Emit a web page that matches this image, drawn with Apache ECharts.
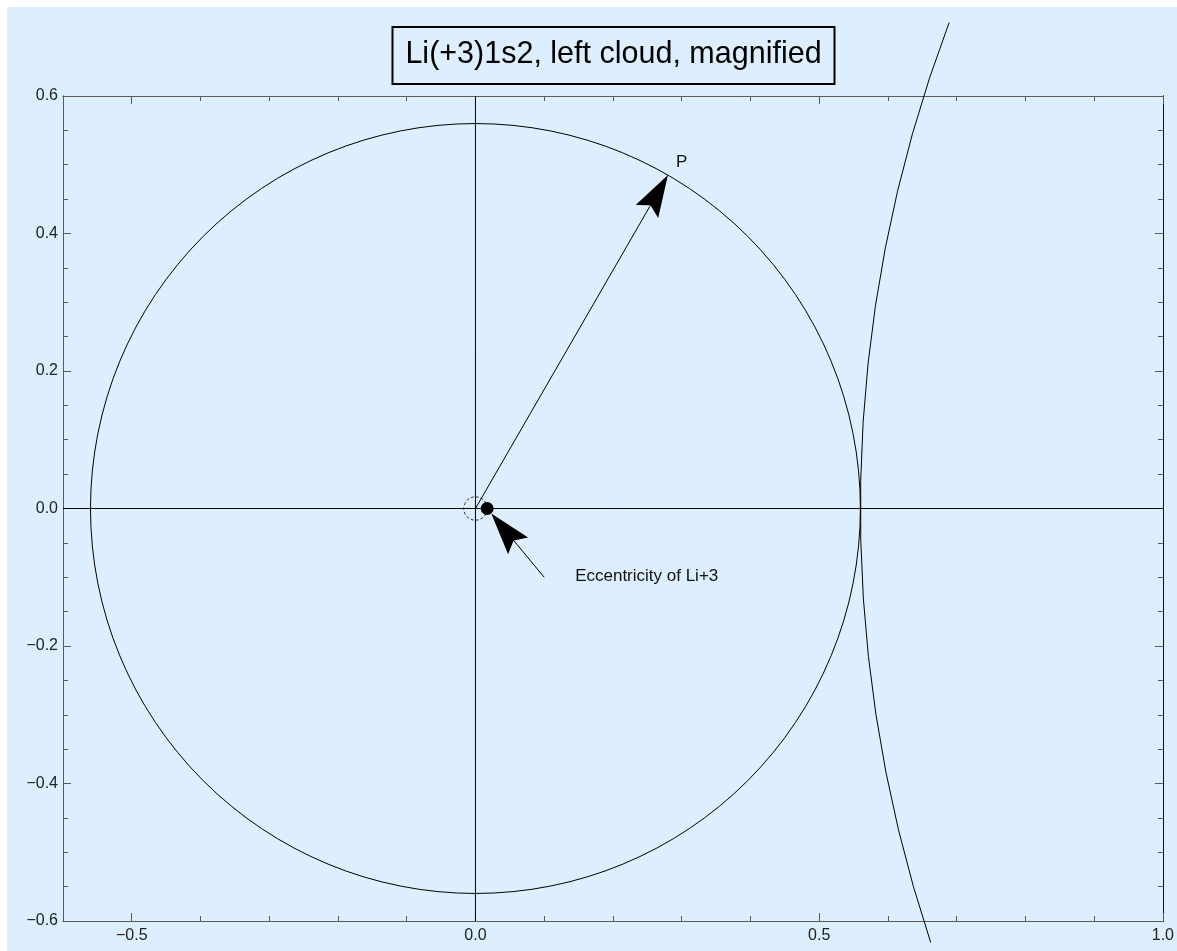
<!DOCTYPE html>
<html>
<head>
<meta charset="utf-8">
<script src="https://cdn.jsdelivr.net/npm/echarts@6/dist/echarts.min.js"></script>
<style>
  html, body { margin: 0; padding: 0; background: #ffffff; }
  #bg { position: absolute; left: 7px; top: 7px; width: 1170px; height: 944px; background: #ddeeff; }
  #chart { position: absolute; left: 7px; top: 7px; width: 1170px; height: 944px; }
</style>
</head>
<body>
<div id="bg"></div>
<div id="chart"></div>
<script>
// ---- data ----
const titleText = 'Li(+3)1s2, left cloud, magnified';
const xRange = [-0.6, 1.0];
const yRange = [-0.6, 0.6];
const xMajorTicks = [-0.5, 0.0, 0.5, 1.0];
const xMinorTicks = [-0.4, -0.3, -0.2, -0.1, 0.1, 0.2, 0.3, 0.4, 0.6, 0.7, 0.8, 0.9];
const yMajorTicks = [-0.6, -0.4, -0.2, 0.0, 0.2, 0.4, 0.6];
const yMinorTicks = [-0.55, -0.5, -0.45, -0.35, -0.3, -0.25, -0.15, -0.1, -0.05,
                     0.05, 0.1, 0.15, 0.25, 0.3, 0.35, 0.45, 0.5, 0.55];
// circles: [centerX, centerY, radius]
const solidCircles = [[0, 0, 0.56]];
const dashedCircles = [[0, 0, 0.017]];
// arcs: [centerX, centerY, radius, startAngleDeg, endAngleDeg]
const arcs = [[2.56, 0, 2.0, 159.3, 198.4]];
// arrows: [fromX, fromY, toX, toY]
const arrows = [[0, 0, 0.28, 0.485], [0.1, -0.1, 0.023, -0.0073]];
// eccentric nucleus position
const nucleus = [[0.017, 0]];
// annotations
const noteTexts = ['P', 'Eccentricity of Li+3'];
const notePos = [[0.30, 0.503], [0.145, -0.098]];
const noteAlign = ['center', 'left'];
// axes through origin
const hAxisLine = [[-0.6, 0], [1.0, 0]];
const vAxisLine = [[0, -0.6], [0, 0.6]];

// ---- chart ----
const FONT = '"Liberation Sans", Arial, Helvetica, sans-serif';
const frameColor = '#5a5a5a';
const fmt = v => (v < 0 ? '\u2212' : '') + Math.abs(v).toFixed(1);

const gridBox = { left: 56, top: 89, width: 1101, height: 825 };

function frameAxis(pos, ticks, len, labels, isX) {
  return {
    type: 'value',
    position: pos,
    min: isX ? xRange[0] : yRange[0],
    max: isX ? xRange[1] : yRange[1],
    axisLine: { show: true, onZero: false, lineStyle: { color: pos === 'right' ? '#111' : frameColor, width: 1 } },
    axisTick: { show: true, inside: true, length: len, customValues: ticks, lineStyle: { color: frameColor, width: 1 } },
    axisLabel: labels ? {
      show: true, customValues: ticks, formatter: fmt,
      fontSize: 16, fontFamily: FONT, color: '#222', margin: isX ? 7 : 5
    } : { show: false },
    splitLine: { show: false },
    minorTick: { show: false },
    silent: true
  };
}

const chart = echarts.init(document.getElementById('chart'), null, { renderer: 'canvas' });

const option = {
  animation: false,
  backgroundColor: 'transparent',
  title: {
    text: titleText,
    left: gridBox.left + gridBox.width / 2 - 13,
    top: 20,
    textAlign: 'center',
    padding: [10, 13, 11, 13],
    borderColor: '#000',
    borderWidth: 2,
    textStyle: { fontSize: 30.5, fontWeight: 'normal', color: '#000', fontFamily: FONT, lineHeight: 36 }
  },
  grid: Object.assign({ containLabel: false }, gridBox),
  xAxis: [
    frameAxis('bottom', xMajorTicks, 8, true, true),
    frameAxis('bottom', xMinorTicks, 5, false, true),
    frameAxis('top', xMajorTicks, 8, false, true),
    frameAxis('top', xMinorTicks, 5, false, true)
  ],
  yAxis: [
    frameAxis('left', yMajorTicks, 8, true, false),
    frameAxis('left', yMinorTicks, 5, false, false),
    frameAxis('right', yMajorTicks, 8, false, false),
    frameAxis('right', yMinorTicks, 5, false, false)
  ],
  series: [
    {
      type: 'line', data: hAxisLine, symbol: 'none', silent: true,
      lineStyle: { color: '#000', width: 1 }, z: 1
    },
    {
      type: 'line', data: vAxisLine, symbol: 'none', silent: true,
      lineStyle: { color: '#000', width: 1 }, z: 1
    },
    {
      type: 'custom', data: solidCircles, silent: true, clip: false,
      renderItem(params, api) {
        const c = api.coord([api.value(0), api.value(1)]);
        const r = api.size([api.value(2), 0])[0];
        return { type: 'circle', shape: { cx: c[0], cy: c[1], r: r },
                 style: { fill: 'none', stroke: '#000', lineWidth: 1 } };
      }
    },
    {
      type: 'custom', data: dashedCircles, silent: true, clip: false,
      renderItem(params, api) {
        const c = api.coord([api.value(0), api.value(1)]);
        const r = api.size([api.value(2), 0])[0];
        return { type: 'circle', shape: { cx: c[0], cy: c[1], r: r },
                 style: { fill: 'none', stroke: '#000', lineWidth: 0.8, lineDash: [3, 2] } };
      }
    },
    {
      type: 'custom', data: arcs, silent: true, clip: false,
      renderItem(params, api) {
        const c = api.coord([api.value(0), api.value(1)]);
        const r = api.size([api.value(2), 0])[0];
        const a0 = -api.value(3) * Math.PI / 180;
        const a1 = -api.value(4) * Math.PI / 180;
        return { type: 'arc', shape: { cx: c[0], cy: c[1], r: r, startAngle: a0, endAngle: a1, clockwise: false },
                 style: { fill: 'none', stroke: '#000', lineWidth: 1 } };
      }
    },
    {
      type: 'custom', data: arrows, silent: true, clip: false,
      renderItem(params, api) {
        const p0 = api.coord([api.value(0), api.value(1)]);
        const p1 = api.coord([api.value(2), api.value(3)]);
        const dx = p1[0] - p0[0], dy = p1[1] - p0[1];
        const L = Math.hypot(dx, dy);
        const ux = dx / L, uy = dy / L, px = -uy, py = ux;
        const HL = 42, HW = 13, NOTCH = 35;
        const back = (d, w) => [p1[0] - ux * d + px * w, p1[1] - uy * d + py * w];
        const n = back(NOTCH, 0);
        return { type: 'group', children: [
          { type: 'line', shape: { x1: p0[0], y1: p0[1], x2: n[0], y2: n[1] },
            style: { stroke: '#000', lineWidth: 1 } },
          { type: 'polygon', shape: { points: [p1, back(HL, -HW), n, back(HL, HW)] },
            style: { fill: '#000', stroke: 'none' } }
        ] };
      }
    },
    {
      type: 'scatter', data: nucleus, symbol: 'circle', symbolSize: 13, silent: true,
      itemStyle: { color: '#000', opacity: 1 }, z: 5
    },
    {
      type: 'custom', data: notePos, silent: true, clip: false,
      renderItem(params, api) {
        const p = api.coord([api.value(0), api.value(1)]);
        return { type: 'text', x: p[0], y: p[1],
                 style: { text: noteTexts[params.dataIndex], align: noteAlign[params.dataIndex],
                          verticalAlign: 'middle', font: '17px ' + FONT, fill: '#111' } };
      }
    }
  ]
};
chart.setOption(option);
</script>
</body>
</html>
